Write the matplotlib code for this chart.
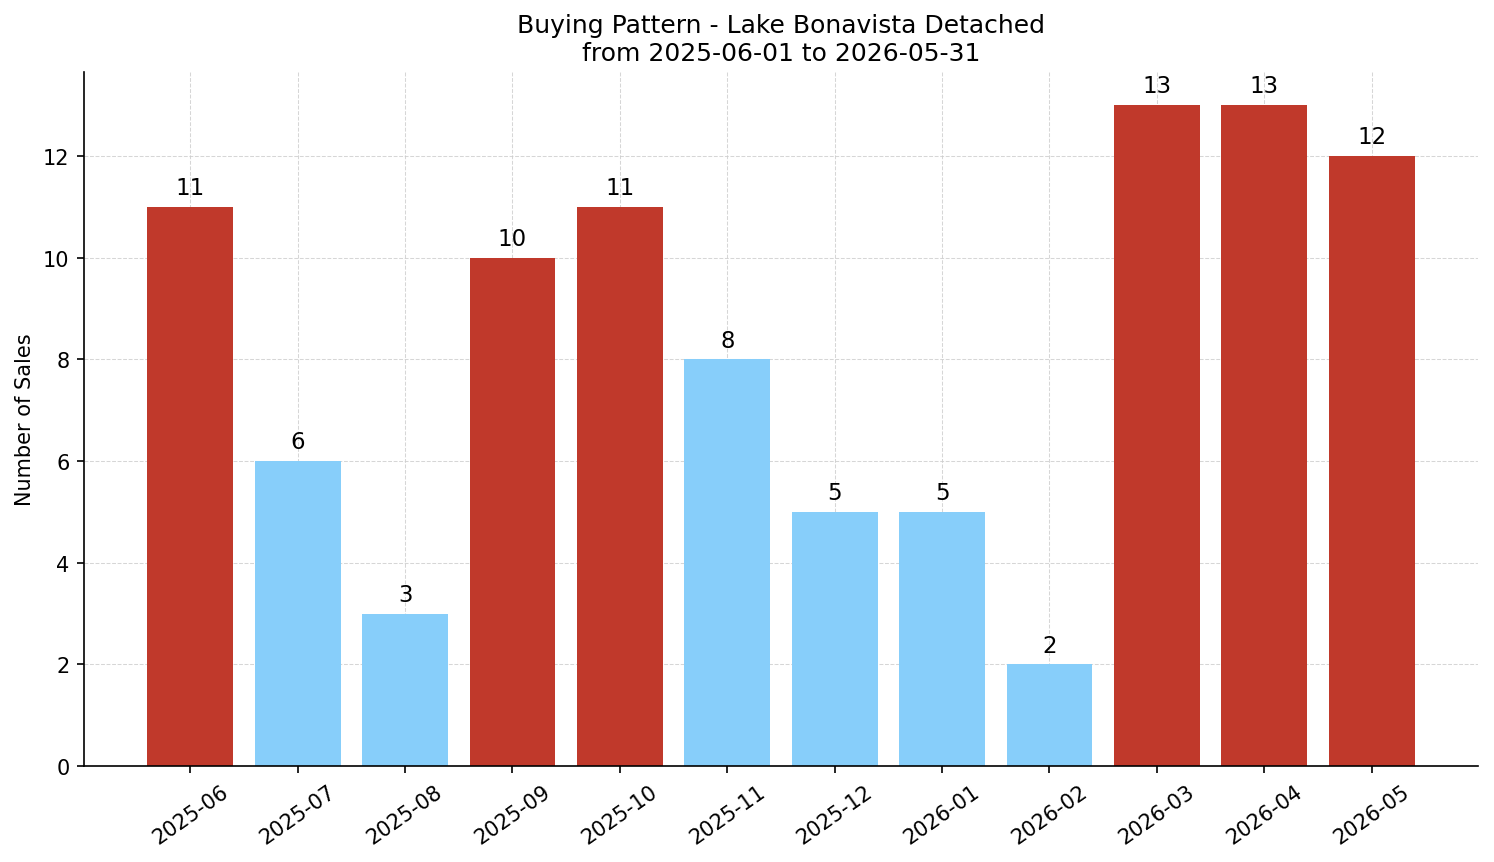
import matplotlib
matplotlib.use("Agg")
import matplotlib.pyplot as plt
import numpy as np

months = ["2025-06", "2025-07", "2025-08", "2025-09", "2025-10", "2025-11",
          "2025-12", "2026-01", "2026-02", "2026-03", "2026-04", "2026-05"]
sales = [11, 6, 3, 10, 11, 8, 5, 5, 2, 13, 13, 12]

high_color = "#c0392b"
low_color = "#87cefa"
mean_val = np.mean(sales)
colors = [high_color if v > mean_val else low_color for v in sales]

fig = plt.figure(figsize=(9.96, 5.7533), dpi=150)
ax = fig.add_axes([0.0562, 0.1112, 0.9331, 0.8042])

x = np.arange(len(months))
ax.bar(x, sales, color=colors, width=0.8, zorder=2)
for xi, v in zip(x, sales):
    ax.text(xi, v + 0.15, str(v), ha="center", va="bottom", fontsize=11)

ax.set_xticks(x)
ax.set_xticklabels(months, rotation=35, ha="center", fontsize=10)
ax.tick_params(axis="y", labelsize=10)
ax.set_ylabel("Number of Sales", fontsize=10)
ax.set_title("Buying Pattern - Lake Bonavista Detached\nfrom 2025-06-01 to 2026-05-31", fontsize=12)
ax.set_ylim(0, 13.65)
ax.set_yticks([0, 2, 4, 6, 8, 10, 12])
ax.grid(True, linestyle="--", linewidth=0.5, color="#cccccc", alpha=0.8, zorder=0)
ax.set_axisbelow(True)
ax.spines["top"].set_visible(False)
ax.spines["right"].set_visible(False)

fig.savefig("out.png", dpi=150)
